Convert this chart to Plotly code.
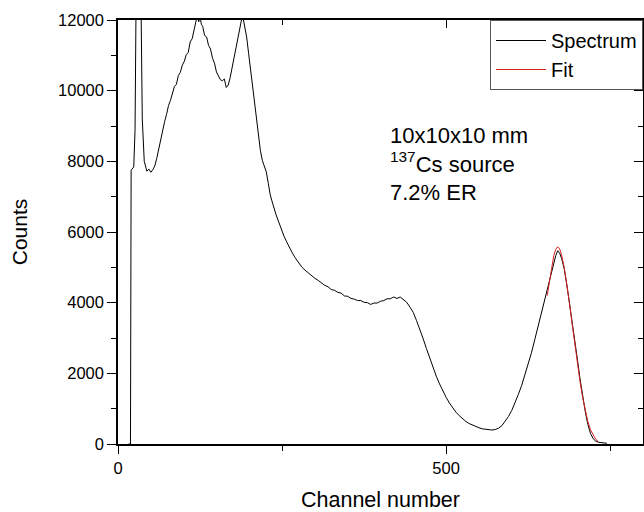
import plotly.graph_objects as go

# Cs-137 spectrum
spectrum_channel = [16, 19, 20, 22, 24, 26, 27, 29, 33, 35,
                    37, 40, 44, 47, 50, 53, 56, 59, 62, 65,
                    68, 71, 74, 77, 80, 83, 86, 89, 92, 95,
                    98, 101, 104, 107, 110, 113, 116, 119, 121, 123,
                    125, 127, 129, 132, 135, 138, 141, 144, 147, 150,
                    153, 156, 159, 162, 165, 168, 171, 174, 177, 180,
                    183, 186, 189, 191, 193, 196, 199, 202, 205, 208,
                    211, 214, 217, 220, 223, 226, 229, 232, 235, 238,
                    241, 245, 249, 253, 257, 261, 265, 270, 275, 280,
                    285, 290, 295, 300, 305, 310, 315, 320, 325, 330,
                    335, 340, 345, 350, 355, 360, 365, 370, 375, 380,
                    385, 390, 395, 400, 405, 410, 415, 420, 425, 430,
                    435, 440, 445, 450, 455, 460, 465, 470, 475, 480,
                    485, 490, 495, 500, 505, 510, 515, 520, 525, 530,
                    535, 540, 545, 550, 555, 560, 565, 570, 575, 580,
                    585, 590, 595, 600, 605, 610, 615, 620, 625, 630,
                    635, 640, 645, 650, 655, 660, 664, 667, 670, 673,
                    676, 680, 684, 688, 692, 696, 700, 704, 708, 712,
                    716, 720, 724, 728, 732, 736, 740, 745]
spectrum_counts = [0, 0, 7750, 7790, 7840, 8900, 12500, 16000, 16000, 12500,
                   9200, 8000, 7720, 7780, 7690, 7760, 7870, 8080, 8350, 8640,
                   8820, 9120, 9330, 9580, 9730, 9960, 10120, 10180, 10430, 10520,
                   10720, 10830, 11020, 11080, 11380, 11470, 11700, 11920, 12150, 11950,
                   12100, 11880, 11820, 11560, 11520, 11280, 11180, 10920, 10780, 10530,
                   10420, 10310, 10280, 10330, 10090, 10160, 10380, 10680, 10880, 11230,
                   11540, 11880, 12080, 12020, 11850, 11520, 11060, 10580, 10120, 9690,
                   9180, 8640, 8300, 8020, 7880, 7700, 7380, 7050, 6850, 6650,
                   6480, 6280, 6060, 5880, 5720, 5560, 5430, 5270, 5140, 5010,
                   4920, 4840, 4770, 4690, 4630, 4560, 4490, 4450, 4370, 4350,
                   4290, 4270, 4190, 4180, 4120, 4100, 4060, 4060, 4010, 4000,
                   3950, 3990, 3990, 4040, 4060, 4110, 4110, 4160, 4120, 4160,
                   4090, 4010, 3870, 3720, 3490, 3250, 2980, 2700, 2430, 2170,
                   1920, 1700, 1500, 1320, 1160, 1020, 900, 800, 715, 640,
                   580, 535, 490, 460, 430, 415, 400, 395, 410, 450,
                   520, 640, 780, 950, 1150, 1400, 1650, 1950, 2230, 2580,
                   2950, 3330, 3720, 4050, 4400, 4800, 5100, 5330, 5470, 5400,
                   5250, 4950, 4500, 4000, 3450, 2900, 2400, 1850, 1350, 920,
                   550, 300, 150, 80, 50, 35, 25, 20]

fit_channel = [654, 658, 661, 664, 667, 670, 673, 676, 680, 684, 688,
               692, 696, 700, 704, 708, 712, 716, 720, 724, 728, 732]
fit_counts = [4200, 4700, 5050, 5330, 5510, 5580, 5520, 5340, 4990, 4520, 3980,
              3400, 2830, 2280, 1770, 1320, 940, 630, 400, 240, 130, 70]

x_ticks = [0, 500]
y_ticks = [0, 2000, 4000, 6000, 8000, 10000, 12000]
note = "10x10x10 mm<br><sup>137</sup>Cs source<br>7.2% ER"

font = "Liberation Sans, Arial, sans-serif"

fig = go.Figure()
fig.add_trace(go.Scatter(x=spectrum_channel, y=spectrum_counts, mode="lines", name="Spectrum",
                         line=dict(color="black", width=1)))
fig.add_trace(go.Scatter(x=fit_channel, y=fit_counts, mode="lines", name="Fit",
                         line=dict(color="#d62020", width=1)))
# empty trace so the top/right axes (inward ticks) get drawn
fig.add_trace(go.Scatter(x=[], y=[], xaxis="x2", yaxis="y2", showlegend=False))

axis_common = dict(showgrid=False, zeroline=False, showline=True, linecolor="black", linewidth=1.5,
                   tickcolor="black", tickwidth=1.2, automargin=False, tickformat="d")

fig.update_layout(
    width=644, height=512,
    margin=dict(l=118, r=1, t=20, b=68),
    plot_bgcolor="white", paper_bgcolor="white",
    font=dict(family=font, size=16.5, color="black"),
    xaxis=dict(range=[0, 800], tickvals=x_ticks, ticks="outside", ticklen=8,
               minor=dict(dtick=250, ticks="outside", ticklen=5, tickcolor="black"),
               title=dict(text="Channel number", font=dict(size=21.5), standoff=17),
               **axis_common),
    yaxis=dict(range=[0, 12000], tickvals=y_ticks, ticks="outside", ticklen=9,
               minor=dict(dtick=1000, ticks="outside", ticklen=5, tickcolor="black"),
               title=dict(text="Counts", font=dict(size=21), standoff=25),
               **axis_common),
    xaxis2=dict(range=[0, 800], overlaying="x", side="top", tickvals=x_ticks, ticks="inside", ticklen=8,
                showticklabels=False,
                minor=dict(dtick=250, ticks="inside", ticklen=5, tickcolor="black"),
                **axis_common),
    yaxis2=dict(range=[0, 12000], overlaying="y", side="right", tickvals=y_ticks, ticks="inside", ticklen=9,
                showticklabels=False,
                minor=dict(dtick=1000, ticks="inside", ticklen=5, tickcolor="black"),
                **axis_common),
    legend=dict(x=1, y=1, xanchor="right", yanchor="top", bgcolor="white",
                bordercolor="#555555", borderwidth=1, font=dict(size=20),
                tracegroupgap=0, itemwidth=50),
    showlegend=True,
)

fig.add_annotation(x=411, y=9150, xref="x", yref="y", text=note, showarrow=False,
                   xanchor="left", yanchor="top", align="left", font=dict(size=22))

# the page adds an 8px body margin; drop it so the figure sits at the window corner
fig.write_html("out.html", config={"displayModeBar": False},
               post_script="document.body.style.margin='0';")
